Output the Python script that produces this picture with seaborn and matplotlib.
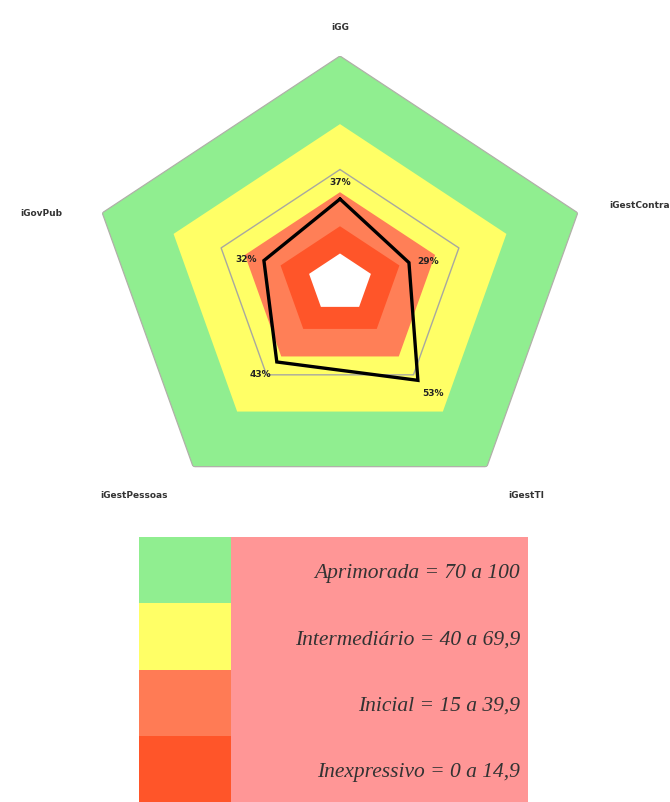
import numpy as np
import matplotlib
matplotlib.use("Agg")
import matplotlib.pyplot as plt
import seaborn as sns

sns.set_theme(style="white")
plt.rcParams["font.family"] = ["DejaVu Sans"]

# Governance indices and their scores (%)
indices = ["iGG", "iGestContra", "iGestTI", "iGestPessoas", "iGovPub"]
scores = [37, 29, 53, 43, 32]

# Maturity bands drawn behind the scores (outer radius of each band)
band_limits = [100, 70, 40, 25, 13]
band_colors = ["#90EE90", "#FFFF66", "#FF7F57", "#FF5529", "#FFFFFF"]
grid_level = 50

# Legend table
legend_labels = ["Aprimorada = 70 a 100", "Intermediário = 40 a 69,9",
                 "Inicial = 15 a 39,9", "Inexpressivo = 0 a 14,9"]
legend_colors = ["#90EE90", "#FFFF66", "#FF7B55", "#FF5529"]
legend_bg = "#FF9696"

W, H = 670, 802
fig = plt.figure(figsize=(W / 100, H / 100), dpi=100)

# Radar panel (stretched horizontally, so aspect is left free)
cx, cy, rx, ry = 340, 283, 250, 227
ax = fig.add_axes([(cx - rx) / W, (H - cy - ry) / H, 2 * rx / W, 2 * ry / H],
                  projection="polar")
ax.set_aspect("auto")
ax.set_theta_offset(np.pi / 2)
ax.set_theta_direction(-1)

theta = np.linspace(0, 2 * np.pi, len(indices), endpoint=False)
theta_c = np.append(theta, theta[0])

for lim, col in zip(band_limits, band_colors):
    ax.fill(theta_c, [lim] * len(theta_c), color=col, lw=0, zorder=1)
ax.plot(theta_c, [band_limits[0]] * len(theta_c), color="#B0B0A8", lw=0.9, zorder=2)
ax.plot(theta_c, [grid_level] * len(theta_c), color="#A8A8A0", lw=1.0, zorder=2)

sc = scores + scores[:1]
ax.plot(theta_c, sc, color="black", lw=2.4, zorder=4, solid_joinstyle="miter")

offsets = {"iGG": (0, 9, "center", "bottom"),
           "iGestContra": (6, 1, "left", "center"),
           "iGestTI": (3, -6, "left", "top"),
           "iGestPessoas": (-4, -6, "right", "top"),
           "iGovPub": (-5, 1, "right", "center")}
for name, t, v in zip(indices, theta, scores):
    dx, dy, ha, va = offsets[name]
    ax.annotate(f"{v}%", xy=(t, v), xytext=(dx, dy), textcoords="offset points",
                ha=ha, va=va, fontsize=6.5, fontweight="bold", color="#222222",
                zorder=5)

ax.set_ylim(0, 100)
ax.set_xticks([])
ax.set_yticks([])
ax.grid(False)
ax.spines["polar"].set_visible(False)
ax.set_facecolor("none")

# Category names around the radar
name_pos = {"iGG": (340, 28, "center"),
            "iGestContra": (609, 205, "left"),
            "iGestTI": (508, 495, "left"),
            "iGestPessoas": (100, 495, "left"),
            "iGovPub": (20, 213, "left")}
for name in indices:
    x, y, ha = name_pos[name]
    fig.text(x / W, 1 - y / H, name, ha=ha, va="center", fontsize=6.5,
             fontweight="bold", color="#333333")

# Legend table below
lx0, lx1, lsplit, ly0, ly1 = 139, 528, 231, 537, 802
lax = fig.add_axes([lx0 / W, (H - ly1) / H, (lx1 - lx0) / W, (ly1 - ly0) / H])
rows = np.arange(len(legend_labels))
lax.barh(rows, [lsplit - lx0] * len(rows), left=0, height=1.0,
         color=legend_colors, linewidth=0)
lax.barh(rows, [lx1 - lsplit] * len(rows), left=lsplit - lx0, height=1.0,
         color=legend_bg, linewidth=0)
for r, lab in zip(rows, legend_labels):
    lax.text(lx1 - lx0 - 8, r + 0.05, lab, ha="right", va="center",
             fontsize=15.5, fontstyle="italic", family="Liberation Serif",
             color="#333333")
lax.set_xlim(0, lx1 - lx0)
lax.set_ylim(len(rows) - 0.5, -0.5)
lax.axis("off")

fig.savefig("out.png", dpi=100)
